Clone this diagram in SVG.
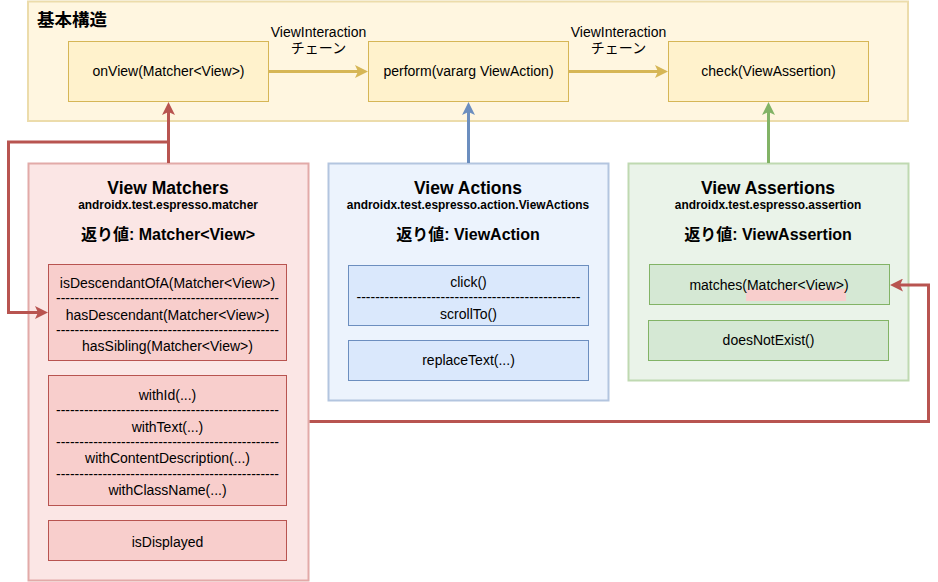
<svg xmlns="http://www.w3.org/2000/svg" width="938" height="582" viewBox="0 0 938 582">
<defs>
<style>
text{font-family:"Liberation Sans",Arial,"Noto Sans CJK JP",sans-serif;fill:#000;text-anchor:middle}
.t{font-size:14px}
.lbl{font-size:14px}
.h{font-size:17.5px;font-weight:bold}
.pk{font-size:11.9px;font-weight:bold}
.rv{font-size:16px;font-weight:bold}
.ttl{font-size:17.5px;font-weight:bold;text-anchor:start}
.yel{fill:#fff2cc;stroke:#d6b656;stroke-width:1}
.red{fill:#f8cecc;stroke:#b85450;stroke-width:1}
.blu{fill:#dae8fc;stroke:#6c8ebf;stroke-width:1}
.grn{fill:#d5e8d4;stroke:#82b366;stroke-width:1}
.e{fill:none;stroke-width:3}
</style>
<marker id="aY" viewBox="0 0 13 13" markerWidth="13" markerHeight="13" refX="3" refY="6.5" orient="auto" markerUnits="userSpaceOnUse"><path d="M0,0 L13,6.5 L0,13 L3,6.5 Z" fill="#d6b656"/></marker>
<marker id="aR" viewBox="0 0 13 13" markerWidth="13" markerHeight="13" refX="3" refY="6.5" orient="auto" markerUnits="userSpaceOnUse"><path d="M0,0 L13,6.5 L0,13 L3,6.5 Z" fill="#b85450"/></marker>
<marker id="aB" viewBox="0 0 13 13" markerWidth="13" markerHeight="13" refX="3" refY="6.5" orient="auto" markerUnits="userSpaceOnUse"><path d="M0,0 L13,6.5 L0,13 L3,6.5 Z" fill="#6c8ebf"/></marker>
<marker id="aG" viewBox="0 0 13 13" markerWidth="13" markerHeight="13" refX="3" refY="6.5" orient="auto" markerUnits="userSpaceOnUse"><path d="M0,0 L13,6.5 L0,13 L3,6.5 Z" fill="#82b366"/></marker>
</defs>

<g id="basic">
<rect x="28" y="1.5" width="880" height="119.5" fill="#fff6e0" stroke="#ecdcab" stroke-width="2"/>
<text class="ttl" x="37" y="26">基本構造</text>
</g>

<g id="onView">
<rect class="yel" x="68.5" y="41.5" width="200" height="60"/>
<text class="t" x="168.5" y="76">onView(Matcher&lt;View&gt;)</text>
</g>
<g id="perform">
<rect class="yel" x="368.5" y="41.5" width="200" height="60"/>
<text class="t" x="468.5" y="76">perform(vararg ViewAction)</text>
</g>
<g id="check">
<rect class="yel" x="668.5" y="41.5" width="200" height="60"/>
<text class="t" x="768.5" y="76">check(ViewAssertion)</text>
</g>

<g id="viewMatchers">
<rect x="28.5" y="163.5" width="280" height="417" fill="#fbe6e5" stroke="#e2aaa8" stroke-width="2"/>
<text class="h" x="168" y="194">View Matchers</text>
<text class="pk" x="168" y="208.5">androidx.test.espresso.matcher</text>
<text class="rv" x="168" y="240">返り値: Matcher&lt;View&gt;</text>
</g>
<g id="matchersHierarchy">
<rect class="red" x="48.5" y="264.5" width="238" height="96"/>
<text class="t" x="167.5" y="287.5">isDescendantOfA(Matcher&lt;View&gt;)</text>
<text class="t" x="167.5" y="303" textLength="223" lengthAdjust="spacingAndGlyphs">------------------------------------------------</text>
<text class="t" x="167.5" y="319.5">hasDescendant(Matcher&lt;View&gt;)</text>
<text class="t" x="167.5" y="335" textLength="223" lengthAdjust="spacingAndGlyphs">------------------------------------------------</text>
<text class="t" x="167.5" y="351">hasSibling(Matcher&lt;View&gt;)</text>
</g>
<g id="matchersProperty">
<rect class="red" x="48.5" y="375.5" width="238" height="130"/>
<text class="t" x="167.5" y="399.5">withId(...)</text>
<text class="t" x="167.5" y="415" textLength="223" lengthAdjust="spacingAndGlyphs">------------------------------------------------</text>
<text class="t" x="167.5" y="431.5">withText(...)</text>
<text class="t" x="167.5" y="447" textLength="223" lengthAdjust="spacingAndGlyphs">------------------------------------------------</text>
<text class="t" x="167.5" y="463">withContentDescription(...)</text>
<text class="t" x="167.5" y="479" textLength="223" lengthAdjust="spacingAndGlyphs">------------------------------------------------</text>
<text class="t" x="167.5" y="495">withClassName(...)</text>
</g>
<g id="isDisplayed">
<rect class="red" x="48.5" y="520.5" width="238" height="40"/>
<text class="t" x="167.5" y="547">isDisplayed</text>
</g>

<g id="viewActions">
<rect x="328.5" y="163.5" width="280" height="237" fill="#ecf3fd" stroke="#b3c5df" stroke-width="2"/>
<text class="h" x="468" y="194">View Actions</text>
<text class="pk" x="468" y="208.5">androidx.test.espresso.action.ViewActions</text>
<text class="rv" x="468" y="240">返り値: ViewAction</text>
</g>
<g id="actionsClick">
<rect class="blu" x="348.5" y="265.5" width="240" height="60"/>
<text class="t" x="468.5" y="286.5">click()</text>
<text class="t" x="468.5" y="301.5" textLength="224" lengthAdjust="spacingAndGlyphs">------------------------------------------------</text>
<text class="t" x="468.5" y="318.5">scrollTo()</text>
</g>
<g id="actionsReplace">
<rect class="blu" x="348.5" y="340.5" width="240" height="40"/>
<text class="t" x="468.5" y="365">replaceText(...)</text>
</g>

<g id="viewAssertions">
<rect x="628.5" y="163.5" width="280" height="217" fill="#eaf3e9" stroke="#bfd9b1" stroke-width="2"/>
<text class="h" x="768" y="194">View Assertions</text>
<text class="pk" x="768" y="208.5">androidx.test.espresso.assertion</text>
<text class="rv" x="768" y="240">返り値: ViewAssertion</text>
</g>
<g id="assertMatches">
<rect class="grn" x="649.5" y="264.5" width="240" height="40"/>
<rect x="746" y="289" width="100" height="12" fill="#f8cecc"/>
<text class="t" x="769" y="289.5">matches(Matcher&lt;View&gt;)</text>
</g>
<g id="assertNotExist">
<rect class="grn" x="648.5" y="320.5" width="240" height="40"/>
<text class="t" x="768.5" y="345">doesNotExist()</text>
</g>

<g id="connectors">
<path class="e" d="M268.5,71.5 H358" stroke="#d6b656" marker-end="url(#aY)"/>
<path class="e" d="M568.5,71.5 H658" stroke="#d6b656" marker-end="url(#aY)"/>
<text class="lbl" x="318.5" y="37">ViewInteraction</text>
<text class="lbl" x="318.5" y="53">チェーン</text>
<text class="lbl" x="618.5" y="37">ViewInteraction</text>
<text class="lbl" x="618.5" y="53">チェーン</text>
<path class="e" d="M168.5,163 V112" stroke="#b85450" marker-end="url(#aR)"/>
<path class="e" d="M168.5,142 H8.5 V312.5 H38" stroke="#b85450" marker-end="url(#aR)"/>
<path class="e" d="M468.5,163 V112" stroke="#6c8ebf" marker-end="url(#aB)"/>
<path class="e" d="M768.5,163 V112" stroke="#82b366" marker-end="url(#aG)"/>
<path class="e" d="M309.5,421.5 H928.5 V285 H900" stroke="#b85450" marker-end="url(#aR)"/>
</g>
</svg>
